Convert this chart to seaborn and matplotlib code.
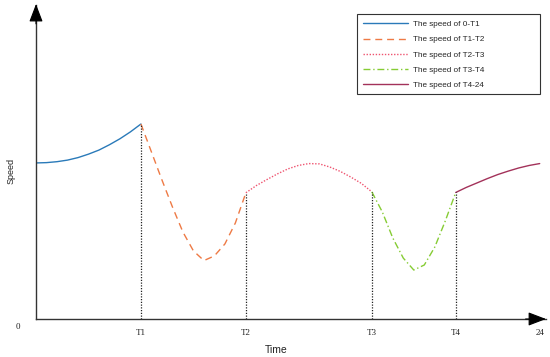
import numpy as np
import pandas as pd
import seaborn as sns
import matplotlib
matplotlib.use("Agg")
import matplotlib.pyplot as plt
from matplotlib.patches import Rectangle

# Values (time in hours, speed in arbitrary units)
t_seg1 = [0, 0.5, 1, 1.5, 2, 2.5, 3, 3.5, 4, 4.5, 5]
v_seg1 = [49.7, 49.8, 50.1, 50.6, 51.4, 52.5, 53.8, 55.5, 57.4, 59.6, 62.1]

t_seg2 = [5, 5.5, 6, 6.5, 7, 7.5, 8, 8.5, 9, 9.5, 10]
v_seg2 = [62.1, 53.2, 44.3, 35.7, 27.7, 21.7, 18.6, 20.1, 23.9, 30.6, 40.2]

t_seg3 = [10, 10.5, 11, 11.5, 12, 12.5, 13, 13.5, 14, 14.5, 15, 15.5, 16]
v_seg3 = [40.2, 42.5, 44.4, 46.2, 47.8, 48.9, 49.5, 49.4, 48.4, 47.0, 45.2, 43.2, 40.5]

t_seg4 = [16, 16.5, 17, 17.5, 18, 18.5, 19, 19.5, 20]
v_seg4 = [40.5, 34.1, 25.8, 19.4, 15.6, 17.2, 22.9, 31.2, 40.3]

t_seg5 = [20, 20.5, 21, 21.5, 22, 22.5, 23, 23.5, 24]
v_seg5 = [40.3, 41.9, 43.3, 44.7, 46.0, 47.1, 48.1, 48.9, 49.5]

labels = ["The speed of 0-T1", "The speed of T1-T2", "The speed of T2-T3",
          "The speed of T3-T4", "The speed of T4-24"]
tick_pos = [5, 10, 16, 20, 24]
tick_labels = ["T1", "T2", "T3", "T4", "24"]

colors = ["#2a7ab9", "#ee7a45", "#ef5470", "#86cc34", "#a3325a"]
styles = ["-", (0, (5, 3.5)), (0, (1, 1.2)), (0, (5, 2, 1, 2)), "-"]

segments = [(t_seg1, v_seg1), (t_seg2, v_seg2), (t_seg3, v_seg3),
            (t_seg4, v_seg4), (t_seg5, v_seg5)]

sns.set_style("white")
plt.rcParams["font.family"] = ["Liberation Sans", "DejaVu Sans"]

fig = plt.figure(figsize=(5.5, 3.57), dpi=100)
ax = fig.add_axes([36 / 550, 38 / 357, 510 / 550, 314 / 357])

for (t, v), lab, col, ls in zip(segments, labels, colors, styles):
    df = pd.DataFrame({"t": t, "v": v})
    sns.lineplot(data=df, x="t", y="v", ax=ax, color=col, linestyle=ls,
                 linewidth=1.0, label=lab)

# dotted drops from the curve to the time axis at T1..T4
drop_x = [t_seg1[-1], t_seg2[-1], t_seg3[-1], t_seg4[-1]]
drop_y = [v_seg1[-1], v_seg2[-1], v_seg3[-1], v_seg4[-1]]
ax.vlines(drop_x, 0, drop_y, colors="#222222", linestyles=(0, (1, 1.2)), linewidth=0.9)

ax.set_xlim(0, 24.3)
ax.set_ylim(0, 100)

for side in ["top", "right"]:
    ax.spines[side].set_visible(False)
for side in ["left", "bottom"]:
    ax.spines[side].set_color("#333333")
    ax.spines[side].set_linewidth(1.0)

# arrow heads on the axes
arrow = dict(arrowstyle="-|>,head_length=1.1,head_width=0.42", color="black",
             lw=0.8, shrinkA=0, shrinkB=0)
ax.annotate("", xy=(1.0, 0), xytext=(0.96, 0), xycoords="axes fraction",
            arrowprops=arrow, annotation_clip=False)
ax.annotate("", xy=(0, 1.003), xytext=(0, 0.94), xycoords="axes fraction",
            arrowprops=arrow, annotation_clip=False)

ax.set_yticks([])
ax.set_xticks(tick_pos)
ax.set_xticklabels(tick_labels, family="Liberation Serif", fontsize=6.5, color="#222222")
ax.tick_params(axis="x", length=0, pad=7)
ax.text(-0.035, -0.026, "0", transform=ax.transAxes, ha="center", va="center",
        family="Liberation Serif", fontsize=6.5, color="#222222")

ax.set_xlabel("")
ax.set_ylabel("")
ax.text(0.471, -0.099, "Time", transform=ax.transAxes, ha="center", va="center",
        fontsize=7.5, color="#222222")
ax.text(-0.049, 0.471, "Speed", transform=ax.transAxes, ha="center", va="center",
        rotation=90, fontsize=6.5, color="#222222")

# legend without its own frame; the wide box is drawn separately
leg = ax.legend(loc="upper left", bbox_to_anchor=(357 / 550, 1 - 14.3 / 357),
                bbox_transform=fig.transFigure, borderaxespad=0, fontsize=5.9,
                frameon=False, handlelength=5.5, handletextpad=0.57,
                labelspacing=0.92, borderpad=0.75)
box = Rectangle((357 / 550, 1 - 94.3 / 357), 183 / 550, 80 / 357,
                transform=fig.transFigure, fill=False, edgecolor="#333333",
                linewidth=0.8)
fig.patches.append(box)

fig.savefig("out.png", dpi=100)
